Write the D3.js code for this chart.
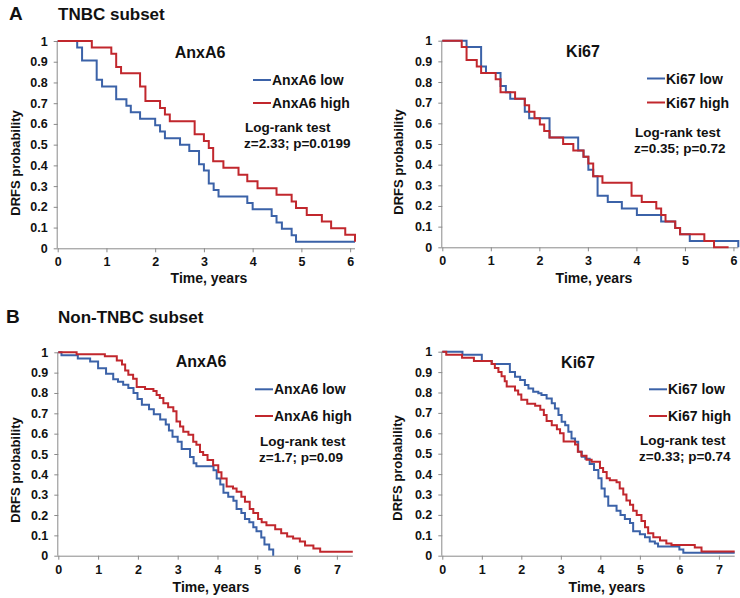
<!DOCTYPE html>
<html><head><meta charset="utf-8">
<script src="https://cdn.jsdelivr.net/npm/d3@7"></script>
<style>
html,body{margin:0;padding:0;background:#fff;}
svg{display:block;}
text{font-family:"Liberation Sans",Arial,sans-serif;font-weight:bold;fill:#111;}
</style></head>
<body><div id="chart"></div>
<script>
// ---------- DATA ----------
const yTicks = [0,0.1,0.2,0.3,0.4,0.5,0.6,0.7,0.8,0.9,1];
const yTickLabels = ["0","0.1","0.2","0.3","0.4","0.5","0.6","0.7","0.8","0.9","1"];
const xTicksA = [0,1,2,3,4,5,6];
const xTicksB = [0,1,2,3,4,5,6,7];
const xMaxA = 6.1, xMaxB = 7.4;

// Panel A (TNBC) – AnxA6
const aAnxLowT  = [0.40,0.50,0.80,0.91,1.20,1.41,1.50,1.69,2.00,2.10,2.20,2.51,2.70,2.90,3.00,3.10,3.20,3.30,3.89,4.00,4.39,4.49,4.60,4.80,4.89];
const aAnxLowS  = [0.969,0.906,0.813,0.781,0.719,0.688,0.656,0.625,0.594,0.563,0.531,0.500,0.469,0.406,0.375,0.313,0.281,0.250,0.219,0.188,0.156,0.125,0.094,0.063,0.031];
const aAnxHighT = [0.70,1.10,1.20,1.30,1.69,1.80,2.10,2.20,2.30,2.81,3.00,3.10,3.19,3.40,3.71,3.89,4.10,4.49,4.80,4.89,5.11,5.42,5.61,5.90,6.10];
const aAnxHighS = [0.969,0.938,0.875,0.844,0.781,0.710,0.677,0.645,0.613,0.550,0.518,0.484,0.420,0.388,0.355,0.323,0.290,0.258,0.226,0.194,0.161,0.129,0.097,0.065,0.032];
// Panel A (TNBC) – Ki67
const aKiLowT   = [0.50,0.80,0.90,1.20,1.31,1.40,1.70,1.79,2.21,2.80,2.91,3.01,3.11,3.20,3.41,3.70,4.01,4.51,4.80,4.90,5.10,6.10];
const aKiLowS   = [0.969,0.875,0.844,0.781,0.750,0.719,0.656,0.625,0.531,0.469,0.438,0.375,0.344,0.250,0.219,0.188,0.156,0.125,0.094,0.063,0.031,0];
const aKiHighT  = [0.40,0.50,0.71,0.80,1.10,1.20,1.50,1.70,1.79,1.90,2.01,2.10,2.21,2.49,2.70,2.91,3.01,3.11,3.30,3.90,4.11,4.41,4.51,4.60,4.80,4.90,5.40,5.60];
const aKiHighS  = [0.969,0.906,0.875,0.844,0.813,0.750,0.719,0.688,0.656,0.625,0.594,0.563,0.531,0.500,0.469,0.438,0.406,0.344,0.313,0.250,0.219,0.188,0.156,0.125,0.094,0.063,0.031,0];
const aKiHighEnd = 5.9;

// Panel B (Non-TNBC) – AnxA6
const bAnxLowT  = [0.08,0.49,0.80,1.00,1.20,1.38,1.50,1.63,1.76,1.89,1.99,2.10,2.28,2.40,2.56,2.70,2.78,2.87,3.00,3.10,3.31,3.40,3.47,3.90,3.98,4.07,4.15,4.27,4.40,4.48,4.60,4.69,4.80,4.90,4.98,5.10,5.18,5.30,5.40];
const bAnxLowS  = [0.985,0.970,0.955,0.922,0.895,0.868,0.855,0.840,0.825,0.800,0.770,0.742,0.720,0.695,0.670,0.645,0.615,0.585,0.560,0.525,0.485,0.455,0.440,0.420,0.380,0.350,0.310,0.290,0.270,0.230,0.210,0.180,0.165,0.140,0.120,0.090,0.055,0.030,0];
const bAnxLowEnd = 5.4;
const bAnxHighT = [0.46,1.17,1.47,1.60,1.68,1.76,1.88,1.97,2.18,2.39,2.47,2.55,2.64,2.76,2.89,2.97,3.06,3.14,3.27,3.39,3.47,3.56,3.64,3.75,3.89,4.02,4.10,4.23,4.39,4.48,4.60,4.69,4.81,4.90,5.02,5.11,5.23,5.45,5.60,5.75,5.90,6.07,6.20,6.41,6.58];
const bAnxHighS = [0.990,0.980,0.960,0.940,0.910,0.890,0.870,0.830,0.820,0.810,0.790,0.775,0.750,0.730,0.710,0.660,0.635,0.610,0.595,0.560,0.545,0.510,0.495,0.470,0.445,0.410,0.380,0.340,0.330,0.315,0.290,0.265,0.230,0.210,0.180,0.165,0.150,0.130,0.110,0.095,0.085,0.070,0.050,0.035,0.020];
// Panel B (Non-TNBC) – Ki67
const bKiLowT   = [0.51,1.00,1.25,1.71,1.84,1.97,2.09,2.18,2.30,2.43,2.51,2.64,2.77,2.85,2.94,3.02,3.11,3.19,3.27,3.36,3.44,3.53,3.62,3.73,3.84,3.95,4.03,4.11,4.20,4.41,4.51,4.62,4.75,4.83,5.00,5.13,5.25,5.38,5.46,6.00,6.10];
const bKiLowS   = [0.985,0.955,0.940,0.900,0.877,0.861,0.837,0.820,0.804,0.796,0.788,0.771,0.747,0.722,0.690,0.657,0.640,0.608,0.575,0.559,0.510,0.485,0.475,0.450,0.420,0.380,0.330,0.290,0.245,0.220,0.200,0.180,0.160,0.120,0.105,0.090,0.070,0.060,0.045,0.030,0.015];
const bKiHighT  = [0.10,0.50,0.80,1.25,1.33,1.42,1.50,1.58,1.63,1.84,1.92,2.00,2.15,2.35,2.48,2.57,2.64,2.77,2.90,2.98,3.07,3.36,3.43,3.52,3.65,3.78,3.99,4.07,4.16,4.24,4.41,4.49,4.58,4.66,4.75,4.83,4.92,5.04,5.13,5.21,5.34,5.51,5.67,5.80,6.39,6.56];
const bKiHighS  = [0.985,0.970,0.955,0.940,0.920,0.900,0.880,0.855,0.830,0.810,0.790,0.765,0.745,0.735,0.715,0.690,0.660,0.640,0.620,0.600,0.560,0.545,0.510,0.490,0.470,0.460,0.430,0.410,0.380,0.370,0.360,0.330,0.300,0.270,0.250,0.220,0.200,0.170,0.140,0.110,0.090,0.075,0.060,0.052,0.040,0.020];

// ---------- LAYOUT ----------
const W = 740, H = 598;
const BLUE = "#3b62a8", RED = "#c1272d", AXIS = "#8a8a8a";
const svg = d3.select("#chart").append("svg").attr("width", W).attr("height", H);

svg.append("text").attr("x", 9).attr("y", 20).style("font-size","19px").text("A");
svg.append("text").attr("x", 58).attr("y", 20).style("font-size","17px").text("TNBC subset");
svg.append("text").attr("x", 6).attr("y", 323).style("font-size","19px").text("B");
svg.append("text").attr("x", 58).attr("y", 323).style("font-size","17px").text("Non-TNBC subset");

const panels = [
  {x0:57.7, x1:355, yTop:41, yBot:248.3, xMax:xMaxA, xTicks:xTicksA, title:"AnxA6", titleX:200, titleY:58,
   legX:253, legY:[80,103], names:["AnxA6 low","AnxA6 high"], lrX:245, lrY:[132,148], z:"z=2.33; p=0.0199",
   yLabX:19.5, yLabY:163, xLabX:209, xLabY:283,
   low:{t:aAnxLowT,s:aAnxLowS,end:xMaxA}, high:{t:aAnxHighT,s:aAnxHighS,end:xMaxA}},
  {x0:442.3, x1:738.3, yTop:40.7, yBot:247.3, xMax:xMaxA, xTicks:xTicksA, title:"Ki67", titleX:583, titleY:57,
   legX:647, legY:[78.5,102.5], names:["Ki67 low","Ki67 high"], lrX:635, lrY:[137,152.5], z:"z=0.35; p=0.72",
   yLabX:402.5, yLabY:162, xLabX:594, xLabY:283,
   low:{t:aKiLowT,s:aKiLowS,end:xMaxA}, high:{t:aKiHighT,s:aKiHighS,end:aKiHighEnd}},
  {x0:58.3, x1:352.8, yTop:352.3, yBot:555.7, xMax:xMaxB, xTicks:xTicksB, title:"AnxA6", titleX:201, titleY:367,
   legX:255, legY:[389.3,416], names:["AnxA6 low","AnxA6 high"], lrX:260, lrY:[446,461.5], z:"z=1.7; p=0.09",
   yLabX:19.5, yLabY:470, xLabX:211, xLabY:592,
   low:{t:bAnxLowT,s:bAnxLowS,end:bAnxLowEnd}, high:{t:bAnxHighT,s:bAnxHighS,end:xMaxB}},
  {x0:442.3, x1:734.7, yTop:351.7, yBot:555.7, xMax:xMaxB, xTicks:xTicksB, title:"Ki67", titleX:578, titleY:368,
   legX:649, legY:[389.3,416], names:["Ki67 low","Ki67 high"], lrX:640, lrY:[445,460.5], z:"z=0.33; p=0.74",
   yLabX:401.5, yLabY:468, xLabX:607, xLabY:592,
   low:{t:bKiLowT,s:bKiLowS,end:xMaxB}, high:{t:bKiHighT,s:bKiHighS,end:xMaxB}}
];

panels.forEach(p => {
  const x = d3.scaleLinear().domain([0, p.xMax]).range([p.x0, p.x1]);
  const y = d3.scaleLinear().domain([0, 1]).range([p.yBot, p.yTop]);
  const g = svg.append("g");

  // axes
  const yAxis = d3.axisLeft(y).tickValues(yTicks).tickFormat((d,i)=>yTickLabels[i]).tickSize(4).tickPadding(6);
  const ya = g.append("g").attr("transform",`translate(${p.x0},0)`).call(yAxis);
  const xAxis = d3.axisBottom(x).tickValues(p.xTicks).tickFormat(d3.format("d")).tickSize(4).tickPadding(5);
  const xa = g.append("g").attr("transform",`translate(0,${p.yBot})`).call(xAxis);
  [ya, xa].forEach(a => {
    a.select(".domain").attr("stroke", AXIS).attr("stroke-width",1);
    a.selectAll(".tick line").attr("stroke", AXIS);
    a.selectAll(".tick text").style("font-family",'"Liberation Sans",Arial,sans-serif')
      .style("font-weight","bold").style("font-size","12.5px").attr("fill","#111");
  });
  // x domain has no outer tick at end beyond
  xa.select(".domain").attr("d", `M${p.x0},0.5H${p.x1}`);
  ya.select(".domain").attr("d", `M-0.5,${p.yBot}V${p.yTop}`);

  // curves
  const line = d3.line().x(d=>x(d[0])).y(d=>y(d[1])).curve(d3.curveStepAfter);
  [[p.low, BLUE],[p.high, RED]].forEach(([c,col]) => {
    const pts = [[0,1]].concat(c.t.map((t,i)=>[t,c.s[i]]));
    pts.push([c.end, c.s[c.s.length-1]]);
    g.append("path").attr("d", line(pts)).attr("fill","none").attr("stroke",col)
      .attr("stroke-width",2).attr("stroke-linejoin","miter");
  });

  // title
  g.append("text").attr("x",p.titleX).attr("y",p.titleY).attr("text-anchor","middle").style("font-size","16px").text(p.title);
  // legend
  [BLUE, RED].forEach((col,i) => {
    g.append("line").attr("x1",p.legX).attr("x2",p.legX+18).attr("y1",p.legY[i]).attr("y2",p.legY[i])
      .attr("stroke",col).attr("stroke-width",2);
    g.append("text").attr("x",p.legX+19).attr("y",p.legY[i]+5).style("font-size","14px").text(p.names[i]);
  });
  g.append("text").attr("x",p.lrX).attr("y",p.lrY[0]).style("font-size","13.5px").text("Log-rank test");
  g.append("text").attr("x",p.lrX-1).attr("y",p.lrY[1]).style("font-size","13.5px").text(p.z);
  // axis labels
  g.append("text").attr("transform",`translate(${p.yLabX},${p.yLabY}) rotate(-90)`).attr("text-anchor","middle")
    .style("font-size","13px").text("DRFS probability");
  g.append("text").attr("x",p.xLabX).attr("y",p.xLabY).attr("text-anchor","middle").style("font-size","14px").text("Time, years");
});
</script>
</body></html>
